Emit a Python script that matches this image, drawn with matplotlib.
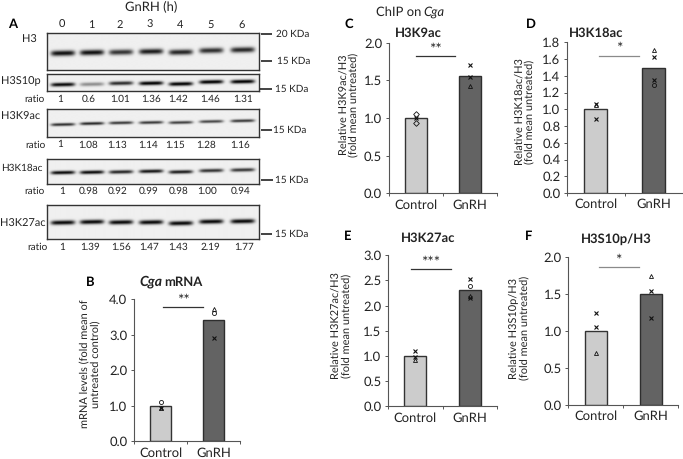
import numpy as np
import matplotlib
matplotlib.use("Agg")
import matplotlib.pyplot as plt

W, H = 683, 459
FONT = "Lato"
plt.rcParams["font.family"] = [FONT, "DejaVu Sans"]
plt.rcParams["text.hinting"] = "no_hinting"
plt.rcParams["text.hinting_factor"] = 1

hours = ["0", "1", "2", "3", "4", "5", "6"]
lane_x = [188, 275, 362, 452, 541, 632, 726]

blot_names = ["H3", "H3S10p", "H3K9ac", "H3K18ac", "H3K27ac"]
blot_tops = [98, 223, 328, 476, 614]
blot_bottoms = [210, 273, 412, 551, 716]
band_y = [
    [160, 158, 157, 155, 157, 152, 150],
    [254, 253, 250, 250, 252, 246, 245],
    [376, 373, 371, 370, 370, 367, 365],
    [516, 515, 514, 512, 514, 510, 508],
    [666, 664, 665, 665, 668, 663, 662],
]
band_dark = [
    [.95, .95, .8, .9, .86, .82, .85],
    [1.0, .42, .85, 1.05, 1.05, 1.05, 1.05],
    [.82, .85, .78, .78, .75, .72, .78],
    [1.0, 1.0, .88, .95, .92, .82, .8],
    [1.0, 1.0, 1.0, 1.0, 1.0, 1.0, 1.0],
]
band_sigma = [2.0, 1.4, 1.1, 1.3, 1.6]
ratios = [
    ["1", "0.6", "1.01", "1.36", "1.42", "1.46", "1.31"],
    ["1", "1.08", "1.13", "1.14", "1.15", "1.28", "1.16"],
    ["1", "0.98", "0.92", "0.99", "0.98", "1.00", "0.94"],
    ["1", "1.39", "1.56", "1.47", "1.43", "2.19", "1.77"],
]
ratio_x = [
    [179, 266, 359, 454, 534, 629, 728],
    [181, 263, 350, 445, 525, 619, 720],
    [185, 267, 354, 447, 535, 622, 722],
    [186, 269, 362, 447, 534, 630, 731],
]
ratio_y = [297, 434, 573, 741]
ratio_word_x = [103, 105, 103, 110]

groups = ["Control", "GnRH"]
bar_colors = ["#cccccc", "#636363"]
bar_edges = ["#333333", "#2e2e2e"]

panels = {
    "B": dict(rect=(134, 240, 299.3, 441.3), ymax=4.0, step=1.0, fmt="%.1f",
              bars=[1.0, 3.42],
              pts=[[("o", 1.12), ("x", .93), ("^", .95)], [("^", 3.72), ("o", 3.62), ("x", 2.92)]],
              sig=(.05, .80, 3.78, "**", "#333333")),
    "C": dict(rect=(388.7, 496.7, 42.7, 193.3), ymax=2.0, step=.5, fmt="%.1f",
              bars=[1.0, 1.56],
              pts=[[("D", 1.05), ("x", 1.0), ("D", .94)], [("x", 1.71), ("x", 1.54), ("^", 1.42)]],
              sig=(0, .72, 1.82, "**", "#333333")),
    "D": dict(rect=(567, 682.7, 42.3, 193), ymax=1.8, step=.2, fmt="%.1f",
              bars=[1.0, 1.49],
              pts=[[("x", 1.06), ("^", 1.05), ("x", .88)], [("^", 1.71), ("x", 1.62), ("x", 1.35), ("o", 1.29)]],
              sig=(.05, .75, 1.64, "*", "#8a8a8a")),
    "E": dict(rect=(388, 497.3, 255.3, 406.3), ymax=3.0, step=.5, fmt="%.1f",
              bars=[1.0, 2.32],
              pts=[[("x", 1.09), ("x", .98), ("^", .92)], [("x", 2.53), ("o", 2.40), ("^", 2.2), ("x", 2.15)]],
              sig=(-.08, .65, 2.73, "***", "#333333")),
    "F": dict(rect=(568.3, 678.3, 257.3, 405), ymax=2.0, step=.5, fmt="%.1f",
              bars=[1.0, 1.5],
              pts=[[("x", 1.24), ("x", 1.05), ("^", .71)], [("^", 1.75), ("x", 1.55), ("x", 1.18)]],
              sig=(.05, .78, 1.87, "*", "#8a8a8a")),
}
ylabels = {
    "B": "mRNA levels (fold mean of\nuntreated control)",
    "C": "Relative H3K9ac/H3\n(fold mean untreated)",
    "D": "Relative H3K18ac/H3\n(fold mean untreated)",
    "E": "Relative H3K27ac/H3\n(fold mean untreated)",
    "F": "Relative H3S10p/H3\n(fold mean untreated)",
}
ylabel_x = {"B": 91, "C": 349, "D": 525, "E": 341.5, "F": 520}
ylabel_y = {"B": 364, "C": 105, "D": 112, "E": 326, "F": 328}

fig = plt.figure(figsize=(W / 100, H / 100), dpi=100, facecolor="white")


def px_axes(x0, x1, y0, y1):
    return fig.add_axes([x0 / W, 1 - y1 / H, (x1 - x0) / W, (y1 - y0) / H])


ov = fig.add_axes([0, 0, 1, 1], zorder=5)
ov.set_xlim(0, W)
ov.set_ylim(H, 0)
ov.axis("off")


def T(x, y, s, size=7, ha="center", weight="normal", color="#222222", **k):
    ov.text(x, y, s, fontsize=size, ha=ha, va="center", fontweight=weight, color=color, **k)


# ---- Panel A: blots
for i, name in enumerate(blot_names):
    x0, x1 = 141 / 3, 778 / 3
    y0, y1 = blot_tops[i] / 3, blot_bottoms[i] / 3
    ax = px_axes(x0, x1, y0, y1)
    xs = np.arange(x0, x1, .5)
    ys = np.arange(y0, y1, .5)
    X, Y = np.meshgrid(xs, ys)
    dark = np.zeros_like(X)
    for lx, by, d in zip(lane_x, band_y[i], band_dark[i]):
        cx, cy = lx / 3, by / 3
        tilt = -0.02 * (X - cx)
        dark += d * np.exp(-((X - cx) / 12) ** 6) * np.exp(-((Y - cy - tilt) / (band_sigma[i] * 1.35)) ** 2)
    img = np.clip(.94 - .92 * dark, 0, 1)
    ax.imshow(img, cmap="gray", vmin=0, vmax=1, extent=(x0, x1, y1, y0), aspect="auto", interpolation="bilinear")
    ax.set_xticks([])
    ax.set_yticks([])
    for s in ax.spines.values():
        s.set_linewidth(1.0)
        s.set_color("#333333")

T(151, 6, "GnRH (h)", size=9)
T(12.5, 24.5, "A", size=9.5, weight="bold", color="black")
for h, lx in zip(hours, lane_x):
    T(lx / 3 - .5, 25, h, size=8)

T(29, 40, "H3", size=8)
T(21, 81.5, "H3S10p", size=8)
T(20.5, 117, "H3K9ac", size=8)
T(21.5, 168, "H3K18ac", size=7.5)
T(22.5, 223.5, "H3K27ac", size=7.8)

for row, y in enumerate(ratio_y):
    T(ratio_word_x[row] / 3 + .5, y / 3, "ratio", size=7)
    for s, x in zip(ratios[row], ratio_x[row]):
        T(x / 3, y / 3, s, size=7.2)

for (xa, xb, y, tx, s) in [(782, 815, 103, 828, "20 KDa"), (782, 815, 182, 830, "15 KDa"),
                           (780, 815, 268, 825, "15 KDa"), (782, 815, 391, 818, "15 KDa"),
                           (782, 818, 540, 825, "15 KDa"), (782, 815, 701, 825, "15 KDa")]:
    ov.plot([xa / 3, xb / 3], [y / 3, y / 3], color="#222222", lw=1.2, solid_capstyle="butt")
    T(tx / 3, y / 3, s, size=7.5, ha="left")


# ---- Bar panels
def draw_panel(key, p):
    x0, x1, y0, y1 = p["rect"]
    ax = px_axes(x0, x1, y0, y1)
    ax.patch.set_alpha(0)
    pos = np.arange(len(groups))
    ax.bar(pos, p["bars"], width=.4, color=bar_colors, edgecolor=bar_edges, linewidth=1.0, zorder=2)
    ax.set_xlim(-.5, 1.5)
    ax.set_ylim(0, p["ymax"])
    yt = np.arange(0, p["ymax"] + 1e-6, p["step"])
    ax.set_yticks(yt)
    ax.set_yticklabels([p["fmt"] % v for v in yt], fontsize=9.2, color="#222222")
    ax.set_xticks([-.5, .5, 1.5])
    ax.set_xticklabels([])
    ax.set_xticks(pos, minor=True)
    ax.set_xticklabels(groups, minor=True, fontsize=9.3, color="#222222")
    ax.tick_params(axis="x", which="minor", length=0, pad=4)
    ax.tick_params(axis="x", which="major", length=2.2, width=.7, direction="out", color="#555555")
    ax.tick_params(axis="y", length=2.2, width=.7, pad=2.5, color="#555555")
    for s in ("top", "right"):
        ax.spines[s].set_visible(False)
    for s in ("left", "bottom"):
        ax.spines[s].set_linewidth(.8)
        ax.spines[s].set_color("#555555")
    for g, pts in enumerate(p["pts"]):
        for m, v in pts:
            if m == "x":
                ax.plot(g, v, m, ms=3.2, mew=.8, color="#111111", zorder=3, clip_on=False)
            else:
                ax.plot(g, v, m, ms=2.9, mew=.6, mfc="none", mec="#111111", zorder=3, clip_on=False)
    a, b, y, stars, col = p["sig"]
    ax.plot([a, b], [y, y], color=col, lw=.9, clip_on=False, zorder=3)
    ax.text((a + b) / 2, y + .002 * p["ymax"], stars, ha="center", va="bottom", fontsize=10.5,
            color="#222222", linespacing=.5)
    T(ylabel_x[key], ylabel_y[key], ylabels[key], size=8, rotation=90, linespacing=1.15)


for key, p in panels.items():
    draw_panel(key, p)

T(90.5, 282, "B", size=9, weight="bold", color="black")
T(139.5, 282, "Cga", size=9.8, weight="bold", style="italic", ha="left")
T(164.5, 282, "mRNA", size=9.3, weight="bold", ha="left")
T(376, 12, "ChIP on", size=9, ha="left")
T(423, 12, "Cga", size=9.5, style="italic", ha="left")
T(348.5, 24, "C", size=9, weight="bold", color="black")
T(418, 33, "H3K9ac", size=9, weight="bold")
T(531, 24.5, "D", size=9, weight="bold", color="black")
T(596, 33, "H3K18ac", size=9, weight="bold")
T(348, 236, "E", size=9, weight="bold", color="black")
T(428.5, 238, "H3K27ac", size=9, weight="bold")
T(529, 236, "F", size=9, weight="bold", color="black")
T(616, 239, "H3S10p/H3", size=9, weight="bold")

fig.savefig("out.png", dpi=100)
